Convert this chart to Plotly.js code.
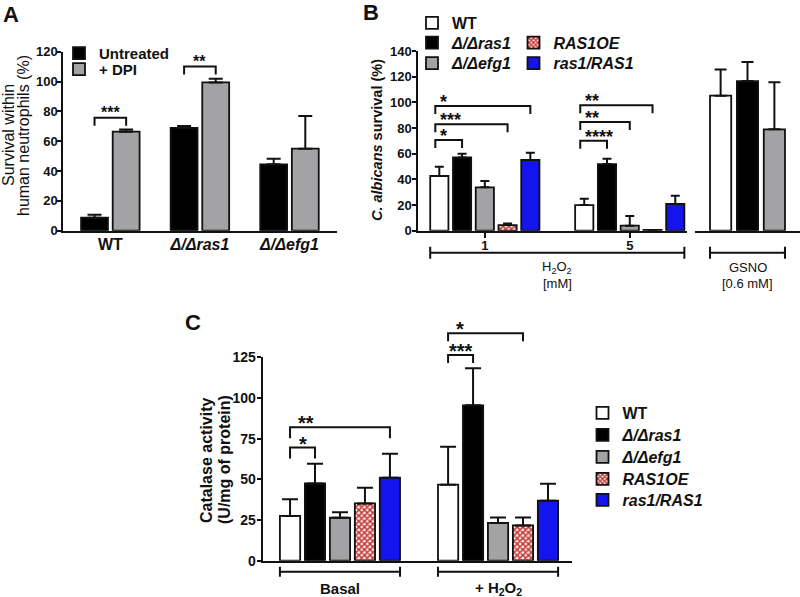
<!DOCTYPE html>
<html><head><meta charset="utf-8">
<script src="https://cdn.plot.ly/plotly-3.0.1.min.js"></script>
<style>html,body{margin:0;padding:0;background:#fff}#chart{width:800px;height:597px}</style>
</head><body><div id="chart"></div>
<script>
// ---------- Panel A data ----------
const catsA = ["WT", "ras1", "efg1"];
const tickTextA = ["WT", "<i>Δ/Δras1</i>", "<i>Δ/Δefg1</i>"];
const untreated = [8.7, 69.0, 44.5];
const untreatedErr = [2.0, 1.2, 3.8];
const dpi = [66.4, 99.4, 55.0];
const dpiErr = [1.5, 2.5, 21.9];

// ---------- Panel B data ----------
const catsB = ["1", "5"];
const bWT = [42.6, 20.0],   bWTErr = [7.3, 4.9];
const bRas1 = [57.1, 51.9], bRas1Err = [2.9, 4.1];
const bEfg1 = [33.8, 3.9],  bEfg1Err = [4.9, 7.5];
const bOE = [4.4, 0.6],     bOEErr = [1.3, 0];
const bComp = [55.1, 20.8], bCompErr = [5.7, 6.5];
const catsGSNO = ["GSNO"];
const gWT = [105.2],   gWTErr = [20.3];
const gRas1 = [116.6], gRas1Err = [14.8];
const gEfg1 = [79.0],  gEfg1Err = [36.6];

// ---------- Panel C data ----------
const catsC = ["Basal", "+ H2O2"];
const cWT = [27.5, 46.7],   cWTErr = [10.2, 23.3];
const cRas1 = [47.5, 95.5], cRas1Err = [12.1, 22.7];
const cEfg1 = [26.4, 23.2], cEfg1Err = [3.3, 3.4];
const cOE = [35.2, 21.7],   cOEErr = [9.7, 4.9];
const cComp = [51.0, 36.9], cCompErr = [14.8, 10.4];

// significance brackets: category, bar from, bar to, height (axis units), label
const sigA = [{cat:0,i:0,j:1,y:75.8,s:"***"},{cat:1,i:0,j:1,y:110,s:"**"}];
const sigB = [{cat:0,i:0,j:1,y:70.6,s:"*"},{cat:0,i:0,j:3,y:82.9,s:"***"},{cat:0,i:0,j:4,y:97.1,s:"*"},
              {cat:1,i:0,j:1,y:70.1,s:"****"},{cat:1,i:0,j:2,y:84.7,s:"**"},{cat:1,i:0,j:3,y:97.7,s:"**"}];
const sigC = [{cat:0,i:0,j:1,y:69.5,s:"*"},{cat:0,i:0,j:4,y:82,s:"**"},
              {cat:1,i:0,j:1,y:126.4,s:"***"},{cat:1,i:0,j:3,y:139.8,s:"*"}];

const names = {wt:"WT", ras1:"<i>Δ/Δras1</i>", efg1:"<i>Δ/Δefg1</i>", oe:"<i>RAS1OE</i>", comp:"<i>ras1/RAS1</i>"};

// ---------- geometry / styles ----------
const W = 800, H = 597;
const FONT = "Liberation Sans, Arial, Helvetica, sans-serif";
const INK = "#111";
const G = {
  A:  {xd:[63.3,336.7], xr:[-0.525,2.527], yd:[51.7,230.7], yr:[0,120], pitch:0.353, w:0.30, n:2},
  B1: {xd:[418.3,687],  xr:[-0.459,1.395], yd:[51,230.7],   yr:[0,140], pitch:0.157, w:0.1256, n:5},
  B2: {xd:[695,800],    xr:[-0.5,0.5],     yd:[51,230.7],   yr:[0,140], pitch:0.256, w:0.202, n:3},
  C:  {xd:[262.7,572],  xr:[-0.489,1.468], yd:[357.3,560.7],yr:[0,125], pitch:0.158, w:0.128, n:5}
};
const ST = {
  black:{color:"#000000"}, gray:{color:"#a3a3a5"},
  wt:{color:"#ffffff"}, ras1:{color:"#000000"}, efg1:{color:"#a3a3a5"},
  oe:{color:"#fbe6e6", pattern:{shape:"x", fgcolor:"#c0302c", bgcolor:"#fbe6e6", size:4, solidity:0.6}},
  comp:{color:"#1414ee"}
};
function off(g,i){ return -g.n*g.pitch/2 + i*g.pitch + (g.pitch-g.w)/2; }
function ctr(g,cat,i){ return cat + off(g,i) + g.w/2; }
function gxp(g,v){ return g.xd[0] + (v-g.xr[0])/(g.xr[1]-g.xr[0])*(g.xd[1]-g.xd[0]); }
function gyp(g,v){ return g.yd[1] - (v-g.yr[0])/(g.yr[1]-g.yr[0])*(g.yd[1]-g.yd[0]); }
const PX = p => p/W, PY = p => 1 - p/H;

function bar(g, xa, ya, cats, vals, errs, i, style, name, legendId, capw){
  const m = {color:style.color, line:{color:INK, width:1.8}};
  if (style.pattern) m.pattern = style.pattern;
  return {type:"bar", x:cats, y:vals, xaxis:xa, yaxis:ya, name:name,
    offset:off(g,i), width:g.w, marker:m,
    error_y:{type:"data", symmetric:false, array:errs, arrayminus:errs.map(()=>0),
             color:INK, thickness:2, width:capw},
    showlegend:!!legendId, legend:legendId||"legend", hoverinfo:"skip"};
}

const data = [
  bar(G.A,"x","y",catsA,untreated,untreatedErr,0,ST.black,"Untreated","legend",7),
  bar(G.A,"x","y",catsA,dpi,dpiErr,1,ST.gray,"+ DPI","legend2",7),

  bar(G.B1,"x2","y2",catsB,bWT,bWTErr,0,ST.wt,names.wt,"legend3",4.5),
  bar(G.B1,"x2","y2",catsB,bRas1,bRas1Err,1,ST.ras1,names.ras1,"legend4",4.5),
  bar(G.B1,"x2","y2",catsB,bEfg1,bEfg1Err,2,ST.efg1,names.efg1,"legend5",4.5),
  bar(G.B1,"x2","y2",catsB,bOE,bOEErr,3,ST.oe,names.oe,"legend6",4.5),
  bar(G.B1,"x2","y2",catsB,bComp,bCompErr,4,ST.comp,names.comp,"legend7",4.5),
  bar(G.B2,"x3","y2",catsGSNO,gWT,gWTErr,0,ST.wt,names.wt,null,6),
  bar(G.B2,"x3","y2",catsGSNO,gRas1,gRas1Err,1,ST.ras1,names.ras1,null,6),
  bar(G.B2,"x3","y2",catsGSNO,gEfg1,gEfg1Err,2,ST.efg1,names.efg1,null,6),

  bar(G.C,"x4","y4",catsC,cWT,cWTErr,0,ST.wt,names.wt,"legend8",8),
  bar(G.C,"x4","y4",catsC,cRas1,cRas1Err,1,ST.ras1,names.ras1,"legend9",8),
  bar(G.C,"x4","y4",catsC,cEfg1,cEfg1Err,2,ST.efg1,names.efg1,"legend10",8),
  bar(G.C,"x4","y4",catsC,cOE,cOEErr,3,ST.oe,names.oe,"legend11",8),
  bar(G.C,"x4","y4",catsC,cComp,cCompErr,4,ST.comp,names.comp,"legend12",8)
];

function xdom(g){ return [g.xd[0]/W, g.xd[1]/W]; }
function ydom(g){ return [1-g.yd[1]/H, 1-g.yd[0]/H]; }
const axBase = {showgrid:false, zeroline:false, showline:true, linecolor:INK, linewidth:2, fixedrange:true};

const layout = {
  width:W, height:H, margin:{l:0,r:0,t:0,b:0}, paper_bgcolor:"#fff", plot_bgcolor:"rgba(0,0,0,0)",
  font:{family:FONT, color:INK}, barmode:"group", showlegend:true,
  xaxis: Object.assign({}, axBase, {domain:xdom(G.A), range:G.A.xr, type:"category", anchor:"y", ticks:"",
          tickmode:"array", tickvals:catsA, ticktext:tickTextA, tickfont:{size:16, weight:"bold"}, ticklabelstandoff:-2}),
  yaxis: Object.assign({}, axBase, {domain:ydom(G.A), range:G.A.yr, anchor:"x", ticks:"outside", ticklen:4, tickwidth:2,
          tickcolor:INK, dtick:20, tickfont:{size:13, weight:"bold"}, ticklabelstandoff:-3}),
  xaxis2: Object.assign({}, axBase, {domain:xdom(G.B1), range:G.B1.xr, type:"category", anchor:"y2", ticks:"outside",
          ticklen:5, tickwidth:2, tickcolor:INK, tickfont:{size:13, weight:"bold"}, ticklabelstandoff:-3}),
  xaxis3: Object.assign({}, axBase, {domain:xdom(G.B2), range:G.B2.xr, type:"category", anchor:"y2", ticks:"", showticklabels:false}),
  yaxis2: Object.assign({}, axBase, {domain:ydom(G.B1), range:G.B1.yr, anchor:"x2", ticks:"outside", ticklen:4, tickwidth:2,
          tickcolor:INK, dtick:20, tickfont:{size:13, weight:"bold"}, ticklabelstandoff:-2}),
  xaxis4: Object.assign({}, axBase, {domain:xdom(G.C), range:G.C.xr, type:"category", anchor:"y4", ticks:"", showticklabels:false}),
  yaxis4: Object.assign({}, axBase, {domain:ydom(G.C), range:G.C.yr, anchor:"x4", ticks:"outside", ticklen:4, tickwidth:2,
          tickcolor:INK, dtick:25, tickfont:{size:14, weight:"bold"}, ticklabelstandoff:-2}),
  shapes:[], annotations:[]
};

// legends (one entry each, to match the tight row spacing of the original)
function leg(id, cx, cy, size){
  layout[id] = {x:PX(cx-20), y:PY(cy), xanchor:"left", yanchor:"middle", bgcolor:"rgba(0,0,0,0)",
                borderwidth:0, font:{family:FONT, size:size, weight:"bold", color:INK}, itemclick:false, itemdoubleclick:false};
}
leg("legend", 79, 53.3, 15); leg("legend2", 79, 69.3, 15);
leg("legend3", 432, 23, 16); leg("legend4", 432, 42.7, 16); leg("legend5", 432, 63.3, 16);
leg("legend6", 533.5, 42.7, 16); leg("legend7", 533.5, 63.3, 16);
[413,435,457,479,500].forEach((cy,k)=>leg("legend"+(8+k), 602.5, cy, 16));

function ann(text, xp, yp, size, opts){
  layout.annotations.push(Object.assign({text:text, x:PX(xp), y:PY(yp), xref:"paper", yref:"paper",
    showarrow:false, xanchor:"center", yanchor:"middle", font:{family:FONT, size:size, color:INK}}, opts||{}));
}
function line(path){ layout.shapes.push({type:"path", xref:"paper", yref:"paper", path:path, line:{color:INK, width:2}}); }
const P = (x,y) => PX(x).toFixed(5)+","+PY(y).toFixed(5);

// significance brackets
function sig(g, list, legPx, fs, mode, startShift){
  list.forEach(b=>{
    const x0 = gxp(g, ctr(g,b.cat,b.i)) + startShift, x1 = gxp(g, ctr(g,b.cat,b.j));
    const yl = gyp(g, b.y);
    line("M"+P(x0,yl+legPx)+" L"+P(x0,yl)+" L"+P(x1,yl)+" L"+P(x1,yl+legPx));
    const narrow = (b.j-b.i)===1;
    let o = {yanchor:"bottom", valign:"top", height:Math.round(0.72*fs), yshift:-0.05*fs,
             font:{family:FONT, size:fs, weight:"bold", color:INK}};
    if (mode==="center" || (mode==="auto" && narrow)) ann(b.s, (x0+x1)/2, yl, fs, o);
    else ann(b.s, x0 + (mode==="left"?3:6), yl, fs, Object.assign(o,{xanchor:"left"}));
  });
}
sig(G.A, sigA, 8, 16, "center", 0);
sig(G.B1, sigB, 8, 18, "left", -4);
sig(G.C, sigC.slice(0,2), 11, 20, "auto", 0);
sig(G.C, sigC.slice(2), 8, 20, "auto", 0);

// group brackets under the x axes
function groupBracket(g, c0, c1, yPx, half){
  const x0 = gxp(g, c0 + off(g,0)) , x1 = gxp(g, c1 + off(g,g.n-1) + g.w);
  line("M"+P(x0,yPx-half)+" L"+P(x0,yPx+half)+" M"+P(x0,yPx)+" L"+P(x1,yPx)+" M"+P(x1,yPx-half)+" L"+P(x1,yPx+half));
  return (x0+x1)/2;
}
const mH = groupBracket(G.B1, 0, 1, 252.7, 6);
const mG = groupBracket(G.B2, 0, 0, 252.7, 6);
const mBasal = groupBracket(G.C, 0, 0, 571.7, 5);
const mHC = groupBracket(G.C, 1, 1, 571.7, 5);
ann("H<sub>2</sub>O<sub>2</sub>", mH, 267.3, 13);
ann("[mM]", mH, 283.3, 13);
ann("GSNO", mG, 267, 13);
ann("[0.6 mM]", mG, 283, 13);
ann("<b>Basal</b>", mBasal, 588, 15);
ann("<b>+ H<sub>2</sub>O<sub>2</sub></b>", mHC, 588, 15);

// axis titles
ann("Survival within", 8, 135, 16, {textangle:-90});
ann("human neutrophils (%)", 23, 136, 16, {textangle:-90});
ann("<b><i>C. albicans</i> survival (%)</b>", 377, 140, 14.5, {textangle:-90});
ann("<b>Catalase activity</b>", 206, 460, 16, {textangle:-90});
ann("<b>(U/mg of protein)</b>", 224, 460, 16, {textangle:-90});

// panel letters
ann("<b>A</b>", 11, 15, 22); ann("<b>B</b>", 371, 12.5, 22); ann("<b>C</b>", 192.5, 322, 22);

Plotly.newPlot("chart", data, layout, {displayModeBar:false, staticPlot:true});
</script></body></html>
